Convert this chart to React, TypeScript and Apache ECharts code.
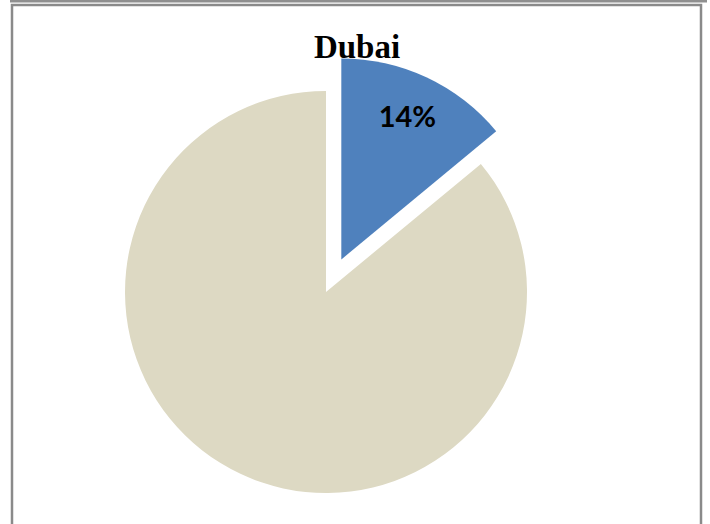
import React, { useEffect, useRef } from "react";
import * as echarts from "echarts";

const chartTitle = "Dubai";
const sliceNames = ["Dubai", "Other"];
const sliceValues = [14, 86];
const sliceColors = ["#4F81BD", "#DDD9C3"];

export default function App() {
  const ref = useRef<HTMLDivElement>(null);
  useEffect(() => {
    if (!ref.current) return;
    const chart = echarts.init(ref.current, null, { renderer: "svg" });
    const total = sliceValues.reduce((a, b) => a + b, 0);
    chart.setOption({
      animation: false,
      backgroundColor: "#ffffff",
      title: {
        text: chartTitle,
        left: 352,
        textAlign: "center",
        top: 25,
        textStyle: {
          fontFamily: "Liberation Serif",
          fontWeight: "bold",
          fontSize: 33,
          color: "#000000",
        },
      },
      graphic: [
        {
          type: "rect",
          shape: { x: 10, y: 0, width: 697, height: 2.5 },
          style: { fill: "#8f8f8f" },
          silent: true,
        },
        {
          type: "rect",
          shape: { x: 12, y: 5, width: 689, height: 540 },
          style: { fill: "none", stroke: "#8a8a8a", lineWidth: 2.5 },
          silent: true,
        },
      ],
      series: [
        {
          type: "pie",
          center: [326, 292],
          radius: [0, 201],
          startAngle: 90,
          clockwise: true,
          selectedMode: "single",
          selectedOffset: 36,
          silent: true,
          labelLine: { show: false },
          label: { show: false },
          labelLayout: { dx: 22, dy: -50 },
          data: sliceNames.map((n, i) => ({
            name: n,
            value: sliceValues[i],
            selected: i === 0,
            itemStyle: { color: sliceColors[i] },
            label: {
              show: i === 0,
              position: "inside",
              formatter: () => Math.round((sliceValues[i] / total) * 100) + "%",
              fontFamily: "Lato",
              fontWeight: "bold",
              fontSize: 29,
              color: "#000000",
            },
          })),
        },
      ],
    });
    return () => chart.dispose();
  }, []);
  return (
    <div
      ref={ref}
      style={{ position: "fixed", left: 0, top: 0, width: 710, height: 524 }}
    />
  );
}
